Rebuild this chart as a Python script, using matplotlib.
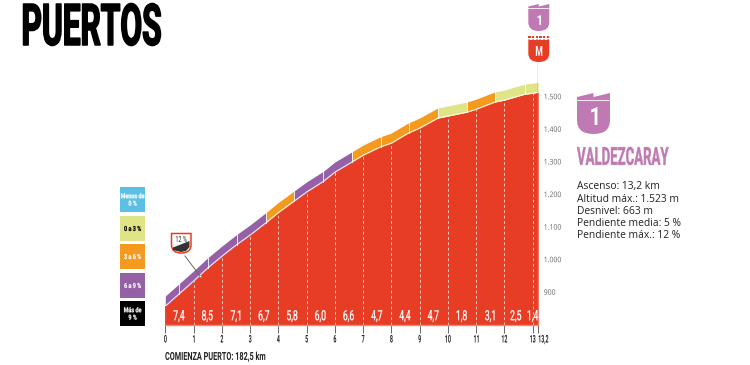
import numpy as np
import matplotlib
matplotlib.use('Agg')
import matplotlib.pyplot as plt
from matplotlib.patches import Polygon, Rectangle, PathPatch
from matplotlib.path import Path
from matplotlib.text import Text
from matplotlib.textpath import TextPath
from matplotlib.transforms import Affine2D, Bbox, IdentityTransform

plt.rcParams['font.family'] = 'Roboto'
TEXT_FONT = 'Open Sans'

# km marks and altitude
km = [0, 1, 1.5, 2, 2.5, 3, 3.55, 4, 5, 5.6, 6, 6.6, 7, 7.6, 8, 8.6, 9, 9.65, 10, 10.67, 11, 11.66, 12, 12.72, 13, 13.2]
altitude = [857, 934, 974, 1010, 1044, 1075, 1112, 1144, 1207, 1240, 1268, 1299, 1320, 1345, 1357, 1388, 1403, 1434,
            1440, 1452, 1461, 1483, 1489, 1507, 1510, 1513]
strip_edges = [0, 0.48, 1.5, 2.53, 3.56, 4.55, 5.58, 6.6, 7.63, 8.62, 9.64, 10.67, 11.66, 12.72, 13.2]
gradients = [7.4, 8.5, 7.1, 6.7, 5.8, 6.0, 6.6, 4.7, 4.4, 4.7, 1.8, 3.1, 2.5, 1.4]
gradient_labels = ['7,4', '8,5', '7,1', '6,7', '5,8', '6,0', '6,6', '4,7', '4,4', '4,7', '1,8', '3,1', '2,5', '1,4']
km_ticks = [0, 1, 2, 3, 4, 5, 6, 7, 8, 9, 10, 11, 12, 13, 13.2]
km_tick_labels = ['0', '1', '2', '3', '4', '5', '6', '7', '8', '9', '10', '11', '12', '13', '13,2']
alt_ticks = [900, 1000, 1100, 1200, 1300, 1400, 1500]
alt_tick_labels = ['900', '1.000', '1.100', '1.200', '1.300', '1.400', '1.500']
legend_labels = ['Menos de\n0 %', '0 a 3 %', '3 a 6 %', '6 a 9 %', 'Más de\n9 %']
stats = ['Ascenso: 13,2 km', 'Altitud máx.: 1.523 m', 'Desnivel: 663 m',
         'Pendiente media: 5 %', 'Pendiente máx.: 12 %']

RED = '#e83d25'
BLUE = '#5cc0e4'
YELLOW = '#dfe587'
ORANGE = '#f39a1f'
PURPLE = '#9560a6'
PINK = '#c07ab3'
legend_colors = [BLUE, YELLOW, ORANGE, PURPLE, 'black']
legend_text_colors = ['white', 'black', 'white', 'white', 'white']


class SqueezedText(Text):
    """Text drawn narrower than the font, no condensed family is installed."""
    xscale = 1.0
    fit_width = None
    stroke = 0.0

    def _paths(self):
        k = self.get_figure().dpi / 72
        fp = self.get_fontproperties()
        cap = TextPath((0, 0), 'H', prop=fp).get_extents().height * k
        lines = self.get_text().split('\n')
        step = cap * 1.5
        total = cap + step * (len(lines) - 1)
        x0, y0 = self.get_transform().transform(self.get_unitless_position())
        va = self.get_va()
        top = y0 if va == 'top' else y0 + total if va == 'bottom' else y0 + total / 2
        out = []
        for i, line in enumerate(lines):
            if not line.strip():
                continue
            p = TextPath((0, 0), line, prop=fp)
            ext = p.get_extents()
            xs = self.fit_width / (ext.width * k) if self.fit_width else self.xscale
            w = ext.x1 * k * xs
            ha = self.get_ha()
            x = x0 if ha == 'left' else x0 - w if ha == 'right' else x0 - w / 2
            tr = Affine2D().scale(k * xs, k).translate(x, top - cap - step * i)
            out.append(p.transformed(tr))
        return out

    def get_window_extent(self, renderer=None, dpi=None):
        paths = self._paths()
        if not paths:
            x, y = self.get_transform().transform(self.get_unitless_position())
            return Bbox([[x, y], [x, y]])
        return Bbox.union([p.get_extents() for p in paths])

    def draw(self, renderer):
        if not self.get_visible():
            return
        gc = renderer.new_gc()
        gc.set_foreground(self.get_color())
        gc.set_linewidth(self.stroke)
        for p in self._paths():
            renderer.draw_path(gc, p, IdentityTransform(), matplotlib.colors.to_rgba(self.get_color()))
        gc.restore()
        self.stale = False


def squeeze(t, xscale=1.0, width=None, stroke=0.0):
    t.__class__ = SqueezedText
    t.xscale, t.fit_width, t.stroke = xscale, width, stroke
    return t


def grade_color(g):
    if g < 3:
        return YELLOW
    if g < 6:
        return ORANGE
    return PURPLE if g < 9 else 'black'


def shield(ax, x, y, w, h, color, edge='none', lw=0):
    # flat top, round bottom; y grows downwards on the overlay
    r = min(w * 0.42, h)
    verts = [(x, y), (x + w, y), (x + w, y + h - r),
             (x + w, y + h), (x + w / 2, y + h),
             (x, y + h), (x, y + h - r), (x, y)]
    codes = [Path.MOVETO, Path.LINETO, Path.LINETO, Path.CURVE3, Path.CURVE3,
             Path.CURVE3, Path.CURVE3, Path.CLOSEPOLY]
    p = PathPatch(Path(verts, codes), facecolor=color, edgecolor=edge, lw=lw)
    ax.add_patch(p)
    return p


fig = plt.figure(figsize=(7.5, 3.65), dpi=100)

# main axes, placed so km 0..13.2 and the altitude scale land on the picture
left, right, top, bottom = 165.3, 538.2, 62, 325
ax = fig.add_axes([left / 750, 1 - bottom / 365, (right - left) / 750, (bottom - top) / 365])
ax.set_xlim(0, 13.2)
ax.set_ylim(799, 1606)
ax.patch.set_alpha(0)

strip_offset = 31
ax.fill_between(km, 700, altitude, color=RED, lw=0, zorder=2)

# coloured strip on top of the profile, one piece per km
for i, g in enumerate(gradients):
    xs = [strip_edges[i]] + [k for k in km if strip_edges[i] < k < strip_edges[i + 1]] + [strip_edges[i + 1]]
    ys = np.interp(xs, km, altitude)
    ax.fill_between(xs, ys, ys + strip_offset, color=grade_color(g), lw=0, zorder=2)
    if i > 0:
        ax.plot([xs[0]] * 2, [ys[0], ys[0] + strip_offset], color='white', lw=0.7, alpha=0.8, zorder=3)
ax.plot(km, altitude, color='white', lw=0.7, alpha=0.9, zorder=3)

# dashed km lines and the gradient of each km
for k in km_ticks[1:-1]:
    ax.plot([k, k], [799, np.interp(k, km, altitude)], color='white', lw=0.7,
            ls=(0, (3, 2.5)), alpha=0.7, zorder=3)
for i, lab in enumerate(gradient_labels):
    x = {12: 12.4, 13: 13.0}.get(i, i + 0.48)
    squeeze(ax.text(x, 829, lab, color='white', fontsize=10, ha='center', va='center', zorder=4),
            xscale=0.62, stroke=0.2)

for s in ax.spines.values():
    s.set_visible(False)
ax.axvline(13.2, color='#9a9a9a', lw=1, zorder=4)
ax.plot([0, 13.2], [799, 799], color='#f08a78', lw=1, zorder=4, clip_on=False)
ax.plot([0, 0], [799, 857], color='#777777', lw=0.8, zorder=4)

ax.set_xticks(km_ticks, km_tick_labels, fontsize=7.6, fontweight='bold', color='#222222')
ax.tick_params(axis='x', length=5.5, width=0.7, color='#666666', pad=1.7)
for lab in ax.get_xticklabels():
    squeeze(lab, xscale=0.5)
ax.get_xticklabels()[-1].set_ha('left')

ax.yaxis.tick_right()
ax.set_yticks(alt_ticks, alt_tick_labels, family=TEXT_FONT, fontsize=5.5, color='#666666')
ax.tick_params(axis='y', length=0, pad=4)
for lab in ax.get_yticklabels():
    squeeze(lab, xscale=0.9)

# overlay in picture pixels for title, legend, badges and text
ov = fig.add_axes([0, 0, 1, 1])
ov.set_xlim(0, 750)
ov.set_ylim(365, 0)
ov.axis('off')
ov.patch.set_alpha(0)

squeeze(ov.text(21.5, 24.5, 'PUERTOS', fontweight='bold', fontsize=41.5, ha='left', va='center', color='black'),
        width=137, stroke=1.1)
squeeze(ov.text(165, 356, 'COMIENZA PUERTO: 182,5 km', fontweight='bold', fontsize=8, ha='left', va='center',
                color='#222222'), width=100)

# legend boxes
legend_y = [187, 216, 244, 273, 301]
for y, lab, c, tc in zip(legend_y, legend_labels, legend_colors, legend_text_colors):
    ov.add_patch(Rectangle((120, y), 25, 25, facecolor=c, lw=0))
    squeeze(ov.text(132.5, y + 12.5, lab, fontweight='bold', fontsize=5, color=tc, ha='center', va='center'),
            xscale=0.78, stroke=0.15)

# 12 % marker
shield(ov, 171.5, 233.5, 19.5, 19.5, 'white', edge=RED, lw=1.1)
ov.add_patch(Polygon([(173, 250), (173, 247.5), (189.5, 241), (189.5, 247), (186, 251), (181, 252)],
                     facecolor='#333333', lw=0))
squeeze(ov.text(181, 239, '12 %', fontsize=6, ha='center', va='center', color='#222222'), xscale=0.65)
ov.plot([185, 200], [256, 276], color='#666666', lw=0.7)
ov.plot([200], [276], 'o', ms=1.6, mfc='white', mec='#666666', mew=0.3)


# category badges
def category_badge(x, y, w, h, notch, body_top, color, label, fs, label_y):
    ov.add_patch(Polygon([(x, y + notch), (x + 0.5 * w, y), (x + 0.5 * w, y + notch),
                          (x + w, y), (x + w, body_top - 0.8), (x, body_top - 0.8)], facecolor=color, lw=0))
    shield(ov, x, body_top, w, y + h - body_top, color)
    squeeze(ov.text(x + w / 2, label_y, label, fontweight='bold', fontsize=fs, color='white',
                    ha='center', va='center'), xscale=0.8)


category_badge(528.3, 4, 21, 27, 2.5, 9, PINK, '1', 10, 20)
category_badge(577, 93, 33, 41, 4, 101, PINK, '1', 18, 116)

# finish badge
shield(ov, 528.3, 39.5, 21, 22.5, RED)
for i in range(6):
    ov.add_patch(Rectangle((528.3 + i * 3.7, 35.5), 2.4, 2.4, facecolor=RED, lw=0))
    if i < 5:
        ov.add_patch(Rectangle((530.2 + i * 3.7, 38), 1.7, 1.7, facecolor='white', lw=0))
squeeze(ov.text(538.8, 51, 'M', fontweight='bold', fontsize=10, color='white', ha='center', va='center'),
        xscale=0.62)

squeeze(ov.text(577, 156, 'VALDEZCARAY', fontweight='bold', fontsize=18, color=PINK, ha='left', va='center'),
        width=91.5, stroke=0.3)
for i, line in enumerate(stats):
    ov.text(577, 187 + i * 12, line, family=TEXT_FONT, fontsize=7.4, color='#222222', ha='left', va='center')

fig.savefig('out.png', dpi=100)
